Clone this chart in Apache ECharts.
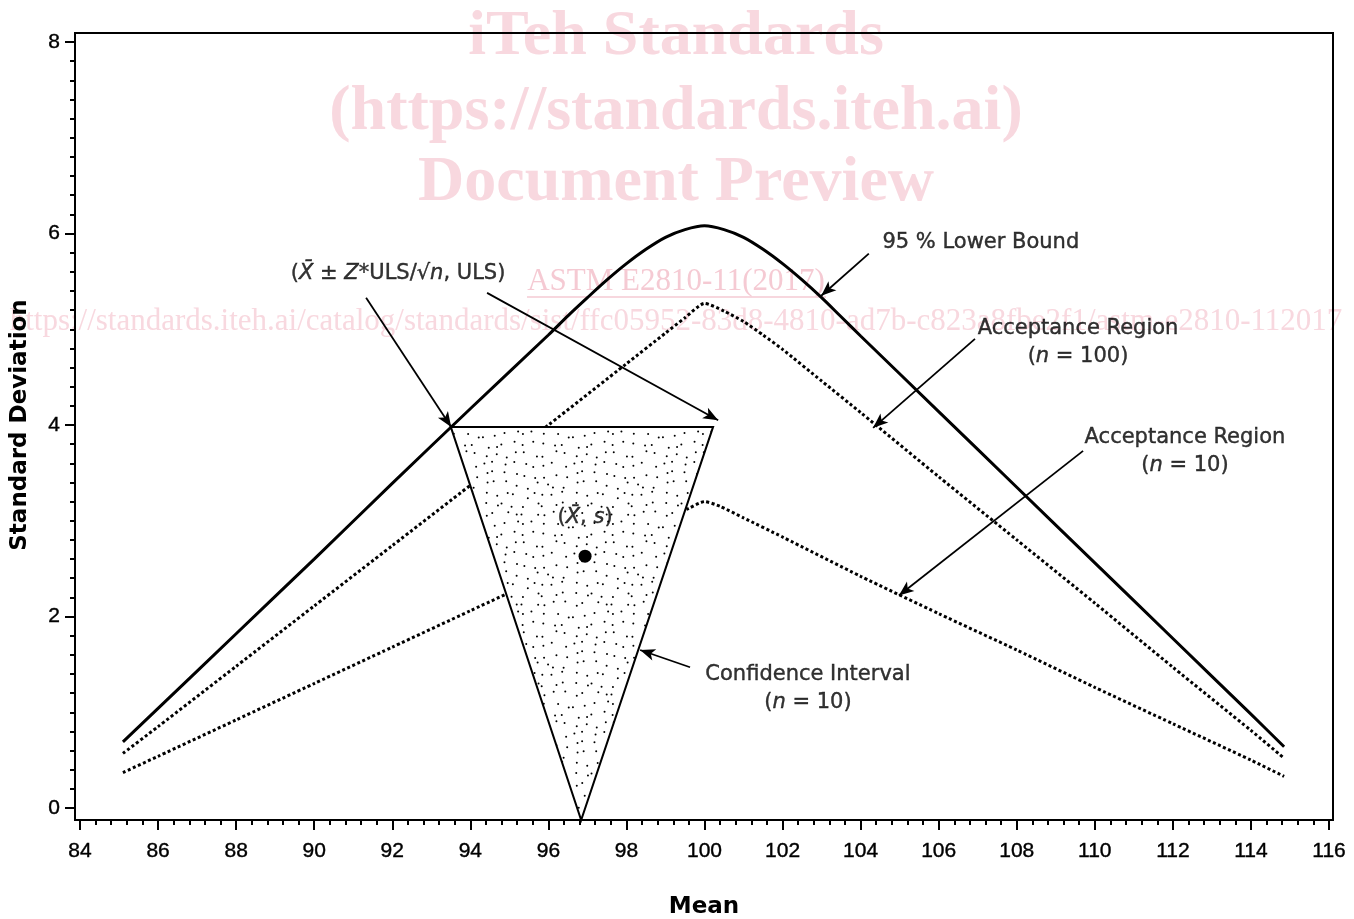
<!DOCTYPE html>
<html>
<head>
<meta charset="utf-8">
<script src="https://cdn.jsdelivr.net/npm/echarts@6/dist/echarts.min.js"></script>
<style>
html,body{margin:0;padding:0;background:#fff;}
#chart{width:1354px;height:919px;}
</style>
</head>
<body>
<div id="chart"></div>
<script>
// ---- data ----
const lowerBound95 = [
  [85.1,0.69],[86,1.04],[88,1.82],[90,2.60],[92,3.39],[94,4.17],[96,4.94],[96.5,5.14],[97,5.33],
  [97.5,5.515],[98,5.685],[98.5,5.835],[99,5.96],[99.5,6.04],[100,6.08],[100.5,6.04],
  [101,5.96],[101.5,5.835],[102,5.685],[102.5,5.515],[103,5.33],[103.5,5.13],[104,4.93],
  [106,4.14],[108,3.35],[110,2.56],[112,1.77],[114,0.98],[114.85,0.64]
];
const acceptance100 = [
  [85.1,0.57],[86,0.85],[88,1.48],[90,2.11],[92,2.74],[94,3.37],[96,4.00],[98,4.64],
  [99,4.96],[99.5,5.12],[100,5.27],[100.5,5.19],[101,5.08],[101.5,4.94],[102,4.79],
  [103,4.46],[104,4.13],[106,3.46],[108,2.80],[110,2.14],[112,1.47],[114,0.81],[114.85,0.52]
];
const acceptance10 = [
  [85.1,0.37],[86,0.54],[88,0.92],[90,1.30],[92,1.68],[94,2.06],[96,2.44],[98,2.82],
  [99,3.01],[99.6,3.13],[100,3.20],[100.4,3.15],[101,3.03],[102,2.83],[104,2.42],
  [106,2.03],[108,1.65],[110,1.26],[112,0.88],[114,0.50],[114.85,0.33]
];
const confidenceTriangle = [[93.5,3.98],[100.22,3.98],[96.84,-0.125]];
const samplePoint = [[96.94,2.63]];
const arrows = [
  [[91.33,5.33],[93.51,3.98]],
  [[94.43,5.38],[100.35,4.05]],
  [[104.21,5.79],[102.99,5.35]],
  [[106.93,4.90],[104.32,3.97]],
  [[109.70,3.73],[104.98,2.22]],
  [[99.63,1.47],[98.35,1.65]]
];
const annotations = [
  {pos:[92.15,5.58], text:'{r|(}{i|X\u0304}{r| ± }{i|Z}{r|*ULS/√}{i|n}{r|, ULS)}'},
  {pos:[107.08,5.91], text:'{r|95 % Lower Bound}'},
  {pos:[109.57,4.86], text:'{r|Acceptance Region}\n{r|(}{i|n}{r| = 100)}'},
  {pos:[112.31,3.72], text:'{r|Acceptance Region}\n{r|(}{i|n}{r| = 10)}'},
  {pos:[102.65,1.25], text:'{r|Confidence Interval}\n{r|(}{i|n}{r| = 10)}'},
  {pos:[96.94,3.03], text:'{r|(}{i|X\u0304}{r|, }{i|s}{r|)}'}
];
const xRange = [84,116], yRange = [0,8];

// ---- stipple texture for the confidence triangle ----
function makeStipple(){
  const N = 9, cell = 10, size = N*cell;
  const c = document.createElement('canvas');
  c.width = size; c.height = size;
  const g = c.getContext('2d');
  g.fillStyle = '#fff'; g.fillRect(0,0,size,size);
  g.fillStyle = '#000';
  let s = 987654;
  function rnd(){ s = (s*1103515245 + 12345) % 2147483648; return s/2147483648; }
  for(let i=0;i<N;i++){
    for(let j=0;j<N;j++){
      const x = i*cell + 1.2 + rnd()*(cell-2.4), y = j*cell + 1.2 + rnd()*(cell-2.4);
      g.beginPath(); g.arc(x,y,1.0,0,Math.PI*2); g.fill();
    }
  }
  return c;
}
const stipple = {image: makeStipple(), repeat: 'repeat'};

const FONT = '"DejaVu Sans", Verdana, sans-serif';
const TICKFONT = '"Liberation Sans", Arial, sans-serif';
const rich = {
  r:{fontFamily:FONT,fontSize:21,color:'#000',lineHeight:28,textBorderColor:'#000',textBorderWidth:0.4},
  i:{fontFamily:FONT,fontSize:21,color:'#000',fontStyle:'italic',lineHeight:28,textBorderColor:'#000',textBorderWidth:0.4}
};
const WM = '#f8d8df';

const chart = echarts.init(document.getElementById('chart'), null, {renderer:'canvas'});

const tickLabel = {color:'#000',fontFamily:TICKFONT,fontSize:21,textBorderColor:'#000',textBorderWidth:0.4};

const option = {
  animation:false,
  backgroundColor:'#fff',
  grid:{left:80,right:25,top:42,bottom:111},
  xAxis:{
    type:'value',min:xRange[0],max:xRange[1],interval:2,offset:12,
    axisLine:{show:true,onZero:false,lineStyle:{color:'#000',width:2}},
    axisTick:{show:true,length:10,lineStyle:{color:'#000',width:2}},
    minorTick:{show:true,splitNumber:5,length:5,lineStyle:{color:'#000',width:2}},
    splitLine:{show:false},
    axisLabel:Object.assign({margin:21},tickLabel)
  },
  yAxis:{
    type:'value',min:yRange[0],max:yRange[1],interval:2,offset:5,
    axisLine:{show:true,onZero:false,lineStyle:{color:'#000',width:2}},
    axisTick:{show:true,length:10,lineStyle:{color:'#000',width:2}},
    minorTick:{show:true,splitNumber:10,length:5,lineStyle:{color:'#000',width:2}},
    splitLine:{show:false},
    axisLabel:Object.assign({margin:15},tickLabel)
  },
  graphic:[
    {type:'text',x:676,y:37,z:-10,silent:true,style:{text:'iTeh Standards',font:'bold 64px "Liberation Serif"',fill:WM,align:'center',verticalAlign:'middle'}},
    {type:'text',x:676,y:112,z:-10,silent:true,style:{text:'(https://standards.iteh.ai)',font:'bold 64px "Liberation Serif"',fill:WM,align:'center',verticalAlign:'middle'}},
    {type:'text',x:676,y:183,z:-10,silent:true,style:{text:'Document Preview',font:'bold 64px "Liberation Serif"',fill:WM,align:'center',verticalAlign:'middle'}},
    {type:'text',x:676,y:282,z:-10,silent:true,style:{text:'ASTM E2810-11(2017)',font:'31px "Liberation Serif"',fill:'#f5cad3',align:'center',verticalAlign:'middle'}},
    {type:'line',z:-10,silent:true,shape:{x1:527,y1:297,x2:826,y2:297},style:{stroke:'#f5cad3',lineWidth:1.5}},
    {type:'text',x:676,y:322,z:-10,silent:true,style:{text:'https://standards.iteh.ai/catalog/standards/sist/ffc05952-83d8-4810-ad7b-c823a8fbe2f1/astm-e2810-112017',font:'31px "Liberation Serif"',fill:WM,align:'center',verticalAlign:'middle'}},
    {type:'rect',z:100,silent:true,shape:{x:75,y:33,width:1258,height:787},style:{fill:'none',stroke:'#000',lineWidth:2}},
    {type:'text',x:704,y:907,z:100,style:{text:'Mean',font:'bold 23px "DejaVu Sans"',fill:'#000',align:'center',verticalAlign:'middle'}},
    {type:'text',x:20,y:425,rotation:Math.PI/2,z:100,style:{text:'Standard Deviation',font:'bold 23px "DejaVu Sans"',fill:'#000',align:'center',verticalAlign:'middle'}}
  ],
  series:[
    {name:'95 % Lower Bound',type:'line',data:lowerBound95,showSymbol:false,symbol:'none',smooth:0.3,z:2,
      lineStyle:{color:'#000',width:3}},
    {name:'Acceptance Region (n = 100)',type:'line',data:acceptance100,showSymbol:false,symbol:'none',smooth:0.2,z:2,
      lineStyle:{color:'#000',width:3,type:[3,2.5]}},
    {name:'Acceptance Region (n = 10)',type:'line',data:acceptance10,showSymbol:false,symbol:'none',smooth:0.2,z:2,
      lineStyle:{color:'#000',width:3,type:[3,2.5]}},
    {name:'Confidence Interval',type:'custom',z:5,clip:false,
      data:[confidenceTriangle[0]],
      renderItem:function(params,api){
        const pts = confidenceTriangle.map(p=>api.coord(p));
        return {type:'polygon',shape:{points:pts},style:{fill:stipple,stroke:'#000',lineWidth:2}};
      }},
    {name:'sample',type:'scatter',data:samplePoint,symbol:'circle',symbolSize:13,z:6,
      itemStyle:{color:'#000',opacity:1}},
    {name:'arrows',type:'line',data:[],z:8,
      markLine:{silent:true,symbol:['none','arrow'],symbolSize:[9,15],precision:4,
        label:{show:false},lineStyle:{color:'#000',width:1.8,type:'solid'},
        data:arrows.map(a=>[{coord:a[0]},{coord:a[1]}])}},
    {name:'annotations',type:'scatter',z:9,symbolSize:0,silent:true,
      data:annotations.map(a=>({value:a.pos,label:{show:true,position:'inside',formatter:a.text,rich:rich,
        color:'#000',align:'center',verticalAlign:'middle'}}))}
  ]
};
chart.setOption(option);
</script>
</body>
</html>
